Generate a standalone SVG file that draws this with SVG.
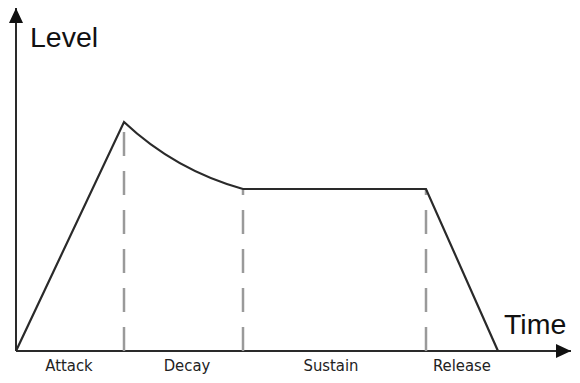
<svg xmlns="http://www.w3.org/2000/svg" width="580" height="383" viewBox="0 0 580 383">
<style>
.axis{stroke:#2a2a2a;stroke-width:2;fill:none}
.env{stroke:#2a2a2a;stroke-width:2.2;fill:none;stroke-linejoin:miter}
.dash{stroke:#9a9a9a;stroke-width:2.5;stroke-dasharray:24 15;fill:none}
.big{font-family:"Liberation Sans",Arial,sans-serif;font-size:28.5px;fill:#111}
.lab{font-family:"DejaVu Sans Condensed","DejaVu Sans",sans-serif;font-size:16.5px;fill:#222;text-anchor:middle}
</style>
<defs>
<marker id="arr" markerWidth="16" markerHeight="14" refX="15" refY="7" orient="auto" markerUnits="userSpaceOnUse">
<path d="M0,0 L15,7 L0,14 Z" fill="#111"/>
</marker>
</defs>
<rect width="580" height="383" fill="#fff"/>
<g id="axes">
<line class="axis" x1="16" y1="351" x2="16" y2="8" marker-end="url(#arr)"/>
<line class="axis" x1="16" y1="351" x2="571" y2="351" marker-end="url(#arr)"/>
</g>
<g id="connectors">
<line class="dash" x1="124" y1="351" x2="124" y2="124"/>
<line class="dash" x1="243" y1="351" x2="243" y2="190"/>
<line class="dash" x1="426" y1="351" x2="426" y2="190"/>
</g>
<g id="envelope">
<path class="env" d="M16,351 L124,122 Q175,170 243,189 L426,189 L498,351"/>
</g>
<g id="labels">
<text class="big" x="30" y="47">Level</text>
<text class="big" x="504" y="334">Time</text>
<text class="lab" x="69" y="371">Attack</text>
<text class="lab" x="187" y="371">Decay</text>
<text class="lab" x="331" y="371">Sustain</text>
<text class="lab" x="462" y="371">Release</text>
</g>
</svg>
